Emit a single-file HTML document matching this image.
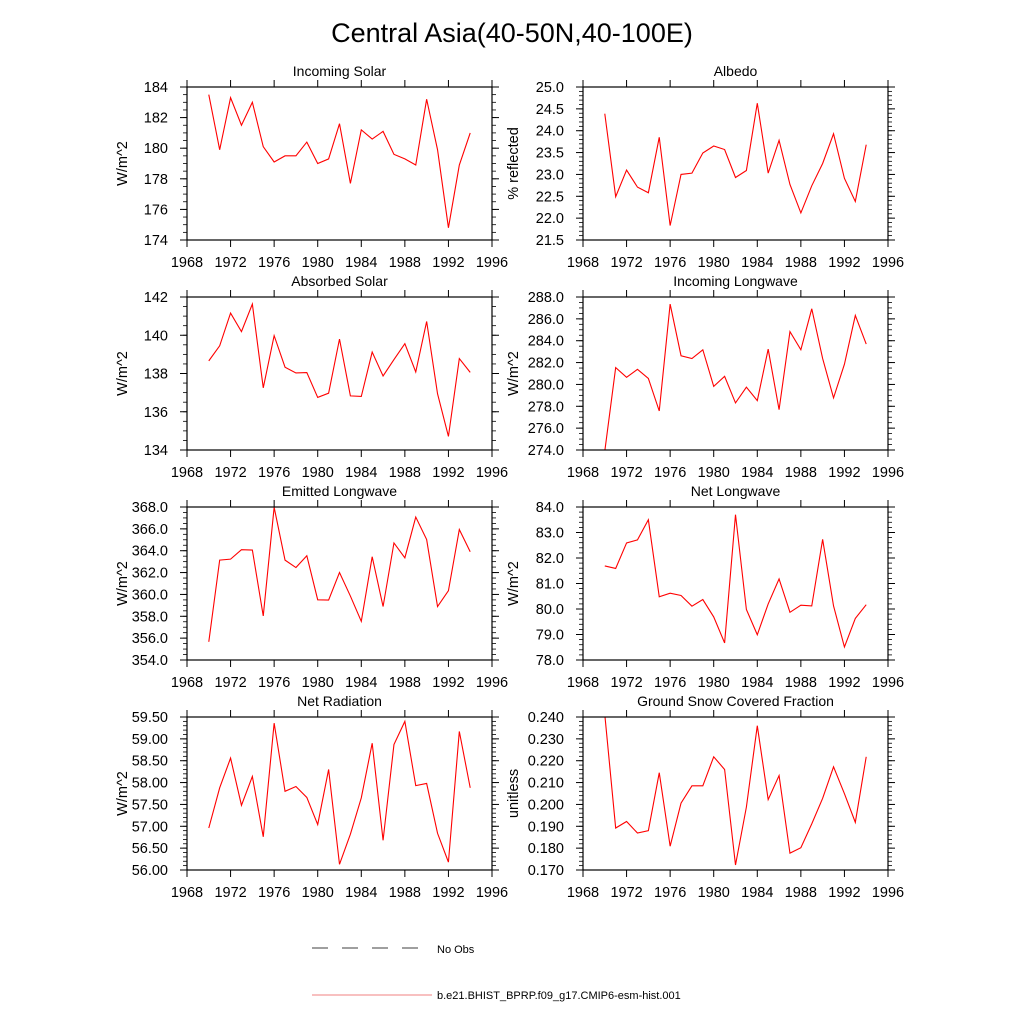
<!DOCTYPE html>
<html><head><meta charset="utf-8"><style>
html,body{margin:0;padding:0;background:#fff;}
svg{display:block;font-family:"Liberation Sans",sans-serif;}
</style></head><body>
<svg id="chart" width="1024" height="1024" viewBox="0 0 1024 1024" xmlns="http://www.w3.org/2000/svg">
<text x="512" y="42" text-anchor="middle" font-size="27">Central Asia(40-50N,40-100E)</text>
<g>
<line x1="312" y1="948" x2="432" y2="948" stroke="#000" stroke-width="0.8" stroke-dasharray="16,14"/>
<text x="437" y="953" font-size="11">No Obs</text>
<line x1="312" y1="995" x2="432" y2="995" stroke="#f08080" stroke-width="1"/>
<text x="437" y="999" font-size="11">b.e21.BHIST_BPRP.f09_g17.CMIP6-esm-hist.001</text>
</g>
</svg>
<script>
const years = [1970,1971,1972,1973,1974,1975,1976,1977,1978,1979,1980,1981,1982,1983,1984,1985,1986,1987,1988,1989,1990,1991,1992,1993,1994];
const xTicks = [1968,1972,1976,1980,1984,1988,1992,1996];
const incomingSolar = [183.5,179.9,183.3,181.5,183.0,180.1,179.1,179.5,179.5,180.4,179.0,179.3,181.6,177.7,181.2,180.6,181.1,179.6,179.3,178.9,183.2,179.9,174.8,178.9,181.0];
const albedo = [24.39,22.49,23.10,22.71,22.58,23.85,21.83,23.0,23.03,23.49,23.65,23.57,22.93,23.09,24.63,23.03,23.78,22.77,22.12,22.74,23.25,23.93,22.91,22.38,23.68];
const absorbedSolar = [138.66,139.45,141.16,140.19,141.63,137.25,139.98,138.33,138.03,138.05,136.75,136.97,139.80,136.83,136.80,139.12,137.87,138.73,139.56,138.08,140.72,136.94,134.71,138.78,138.06];
const incomingLW = [273.9,281.54,280.65,281.38,280.55,277.57,287.35,282.62,282.37,283.17,279.82,280.74,278.31,279.75,278.52,283.23,277.69,284.83,283.17,286.92,282.37,278.77,281.85,286.31,283.69];
const emittedLW = [355.66,363.14,363.23,364.09,364.06,358.03,367.97,363.14,362.46,363.54,359.51,359.48,362.0,359.85,357.54,363.45,358.89,364.71,363.35,367.08,365.02,358.89,360.34,365.94,363.91];
const netLW = [81.69,81.59,82.59,82.71,83.50,80.48,80.62,80.53,80.11,80.37,79.69,78.67,83.70,79.98,78.99,80.20,81.18,79.87,80.15,80.12,82.73,80.12,78.51,79.63,80.17];
const netRad = [56.96,57.88,58.56,57.48,58.14,56.76,59.36,57.80,57.91,57.66,57.04,58.30,56.13,56.82,57.65,58.90,56.68,58.87,59.40,57.93,57.98,56.84,56.18,59.17,57.88];
const snowFrac = [0.2411,0.1892,0.1922,0.1869,0.1880,0.2145,0.1809,0.2006,0.2085,0.2085,0.2218,0.2160,0.1723,0.1988,0.2360,0.2022,0.2132,0.1777,0.1802,0.1911,0.2028,0.2172,0.2049,0.1918,0.2218];
const panelTitles = ["Incoming Solar","Albedo","Absorbed Solar","Incoming Longwave","Emitted Longwave","Net Longwave","Net Radiation","Ground Snow Covered Fraction"];
const yTitles = ["W/m^2","% reflected","W/m^2","W/m^2","W/m^2","W/m^2","W/m^2","unitless"];
const yMins = [174,21.5,134,274,354,78,56,0.17];
const yMaxs = [184,25.0,142,288,368,84,59.5,0.24];
const yMajor = [2,0.5,2,2,2,1,0.5,0.01];
const yMinor = [0.5,0.1,0.5,0.5,0.5,0.2,0.1,0.002];
const yDecimals = [0,1,0,1,1,1,2,3];
const series = [incomingSolar,albedo,absorbedSolar,incomingLW,emittedLW,netLW,netRad,snowFrac];

const NS = "http://www.w3.org/2000/svg";
const svg = document.getElementById('chart');
function mk(tag, attrs, parent){const e=document.createElementNS(NS,tag);for(const k in attrs)e.setAttribute(k,attrs[k]);(parent||svg).appendChild(e);return e;}
const colX = [[187,492],[583,888]];
const rowY = [87,297,507,717];
const H = 153;
series.forEach((vals,i)=>{
  const c=i%2, r=Math.floor(i/2);
  const x0=colX[c][0], x1=colX[c][1], y0=rowY[r], y1=y0+H;
  const xs = y => x0+(y-1968)/(1996-1968)*(x1-x0);
  const ys = v => y1-(v-yMins[i])/(yMaxs[i]-yMins[i])*H;
  const g = mk('g',{});
  
  
  const cp = mk('clipPath',{id:'cp'+i},g);
  mk('rect',{x:x0,y:y0,width:x1-x0,height:H},cp);
  const pts = vals.map((v,k)=>xs(years[k]).toFixed(2)+','+ys(v).toFixed(2)).join(' ');
  const pl = mk('polyline',{points:pts,fill:'none',stroke:'#ff0000','stroke-width':1.1,'clip-path':'url(#cp'+i+')'},g);
  
  
  const fr = mk('rect',{x:x0,y:y0,width:x1-x0,height:H,fill:'none',stroke:'#000','stroke-width':1.2},g);
  
  
  xTicks.forEach(t=>{
    const x=xs(t);
    mk('line',{x1:x,y1:y1,x2:x,y2:y1+7,stroke:'#000','stroke-width':1},g);
    mk('line',{x1:x,y1:y0,x2:x,y2:y0-7,stroke:'#000','stroke-width':1},g);
    const tl = mk('text',{x:x,y:y1+27,'text-anchor':'middle','font-size':14.5},g);
    tl.textContent=t;
    
    
  });
  const nMin = Math.round((yMaxs[i]-yMins[i])/yMinor[i]);
  for(let k=0;k<=nMin;k++){
    const v=yMins[i]+k*yMinor[i], y=ys(v);
    mk('line',{x1:x0,y1:y,x2:x0-4,y2:y,stroke:'#000','stroke-width':0.8},g);
    mk('line',{x1:x1,y1:y,x2:x1+4,y2:y,stroke:'#000','stroke-width':0.8},g);
  }
  const nMaj = Math.round((yMaxs[i]-yMins[i])/yMajor[i]);
  for(let k=0;k<=nMaj;k++){
    const v=yMins[i]+k*yMajor[i], y=ys(v);
    mk('line',{x1:x0,y1:y,x2:x0-7,y2:y,stroke:'#000','stroke-width':1},g);
    mk('line',{x1:x1,y1:y,x2:x1+7,y2:y,stroke:'#000','stroke-width':1},g);
    const tl = mk('text',{x:x0-19,y:y+5,'text-anchor':'end','font-size':14.5},g);
    tl.textContent=v.toFixed(yDecimals[i]);
    
    
  }
  const tt = mk('text',{x:(x0+x1)/2,y:y0-11,'text-anchor':'middle','font-size':14},g);
  tt.textContent=panelTitles[i];
  
  
  const yx = c===0 ? 127 : 518;
  const yt = mk('text',{x:yx,y:y0+H/2,'text-anchor':'middle','font-size':14.5,transform:'rotate(-90 '+yx+' '+(y0+H/2)+')'},g);
  yt.textContent=yTitles[i];
  
  
});
</script>
</body></html>
